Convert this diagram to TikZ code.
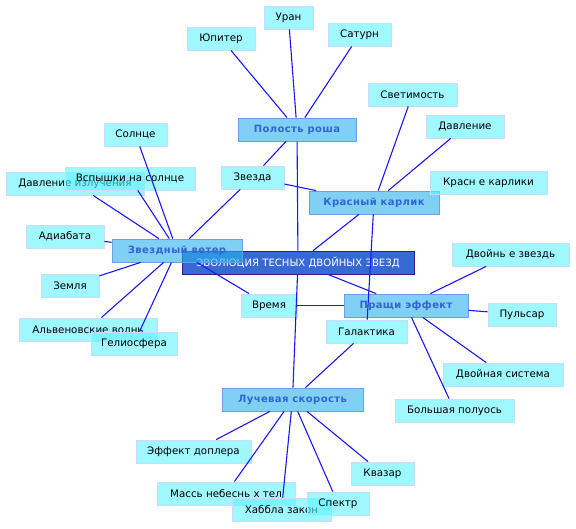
\documentclass[tikz,border=0pt]{standalone}
\usepackage{fontspec}
\setmainfont{DejaVu Sans}
\newfontfamily\hubfont[LetterSpace=4]{DejaVu Sans}
\usepackage{xcolor}
\definecolor{leaffill}{RGB}{97,243,255}
\definecolor{leafline}{RGB}{205,218,255}
\definecolor{hubfill}{RGB}{43,177,238}
\definecolor{hubline}{RGB}{105,160,230}
\definecolor{hubtext}{RGB}{50,100,210}
\definecolor{corefill}{RGB}{55,105,210}
\definecolor{coreline}{RGB}{60,25,140}
\definecolor{linkblue}{RGB}{25,25,245}

\begin{document}
\begin{tikzpicture}[
  x=1pt, y=-1pt,
  leaf/.style={rectangle, draw=leafline, fill=leaffill, fill opacity=0.6, text opacity=1, minimum height=23pt, inner sep=0pt, font=\fontsize{10.3}{12}\selectfont, line width=0.8pt},
  hub/.style={rectangle, draw=hubline, fill=hubfill, fill opacity=0.6, text opacity=1, text=hubtext, minimum height=23pt, inner sep=0pt, font=\fontsize{10}{12}\hubfont\bfseries, line width=0.8pt},
  core/.style={rectangle, draw=coreline, fill=corefill, text=white, minimum height=23pt, inner sep=0pt, font=\fontsize{10.1}{12}\selectfont, line width=0.8pt},
  link/.style={draw=linkblue, line width=1.1pt}
]
\useasboundingbox (0,0) rectangle (576,529);

\node[core, minimum width=232pt] (evol) at (298,262.5) {ЭВОЛЮЦИЯ ТЕСНЫХ ДВОЙНЫХ ЗВЕЗД};

\node[hub, minimum width=118pt] (roche) at (297,129.5) {Полость роша};
\node[hub, minimum width=130pt] (dwarf) at (374,202.5) {Красный карлик};
\node[hub, minimum width=130pt] (wind) at (177,250.5) {Звездный ветер};
\node[hub, minimum width=124pt] (sling) at (406,305.5) {Пращи эффект};
\node[hub, minimum width=141pt] (radial) at (292.5,399.5) {Лучевая скорость};

\node[leaf, minimum width=68pt] (jupiter) at (221,38.5) {Юпитер};
\node[leaf, minimum width=49pt] (uranus) at (288.5,17.5) {Уран};
\node[leaf, minimum width=63pt] (saturn) at (359.5,34.5) {Сатурн};
\node[leaf, minimum width=89pt] (lumin) at (412.5,94.5) {Светимость};
\node[leaf, minimum width=78pt] (press) at (465,126.5) {Давление};
\node[leaf, minimum width=117pt] (dwarfs) at (488.5,182.5) {Красн е карлики};
\node[leaf, minimum width=63pt] (sun) at (135.5,134.5) {Солнце};
\node[leaf, minimum width=138pt] (radpress) at (75,183.5) {Давление излучения};
\node[leaf, minimum width=130pt] (flares) at (130,178.5) {Вспышки на солнце};
\node[leaf, minimum width=63pt] (star) at (252.5,177.5) {Звезда};
\node[leaf, minimum width=78pt] (adiabat) at (65,236.5) {Адиабата};
\node[leaf, minimum width=58pt] (earth) at (70,285.5) {Земля};
\node[leaf, minimum width=138pt] (alfven) at (88,329.5) {Альвеновские волнь};
\node[leaf, minimum width=86pt] (helio) at (134,343.5) {Гелиосфера};
\node[leaf, minimum width=56pt] (time) at (269,305.5) {Время};
\node[leaf, minimum width=117pt] (binaries) at (510.5,254.5) {Двойнь е звездь};
\node[leaf, minimum width=68pt] (pulsar) at (522,314.5) {Пульсар};
\node[leaf, minimum width=81pt] (galaxy) at (366.5,331.5) {Галактика};
\node[leaf, minimum width=120pt] (binsys) at (503,374.5) {Двойная система};
\node[leaf, minimum width=119pt] (semiaxis) at (454.5,410.5) {Большая полуось};
\node[leaf, minimum width=115pt] (doppler) at (193.5,451.5) {Эффект доплера};
\node[leaf, minimum width=63pt] (quasar) at (382.5,473.5) {Квазар};
\node[leaf, minimum width=138pt] (masses) at (226,493.5) {Массь небеснь х тел};
\node[leaf, minimum width=99pt] (hubble) at (281.5,509.5) {Хаббла закон};
\node[leaf, minimum width=62pt] (spectrum) at (338,503.5) {Спектр};

\draw[link] (evol) -- (roche);
\draw[link] (evol) -- (dwarf);
\draw[link] (evol) -- (sling);
\draw[link] (evol) -- (radial);
\draw[link] (roche) -- (jupiter);
\draw[link] (roche) -- (uranus);
\draw[link] (roche) -- (saturn);
\draw[link] (roche) -- (star);
\draw[link] (star) -- (dwarf);
\draw[link] (star) -- (wind);
\draw[link] (dwarf) -- (lumin);
\draw[link] (dwarf) -- (press);
\draw[link] (dwarf) -- (galaxy);
\draw[link] (wind) -- (sun);
\draw[link] (wind) -- (flares);
\draw[link] (wind) -- (radpress);
\draw[link] (wind) -- (adiabat);
\draw[link] (wind) -- (earth);
\draw[link] (wind) -- (alfven);
\draw[link] (wind) -- (helio);
\draw[link] (wind) -- (time);
\draw[link] (time) -- (sling);
\draw[link] (sling) -- (binaries);
\draw[link] (sling) -- (pulsar);
\draw[link] (sling) -- (binsys);
\draw[link] (sling) -- (semiaxis);
\draw[link] (galaxy) -- (radial);
\draw[link] (radial) -- (doppler);
\draw[link] (radial) -- (masses);
\draw[link] (radial) -- (hubble);
\draw[link] (radial) -- (spectrum);
\draw[link] (radial) -- (quasar);
\end{tikzpicture}
\end{document}
